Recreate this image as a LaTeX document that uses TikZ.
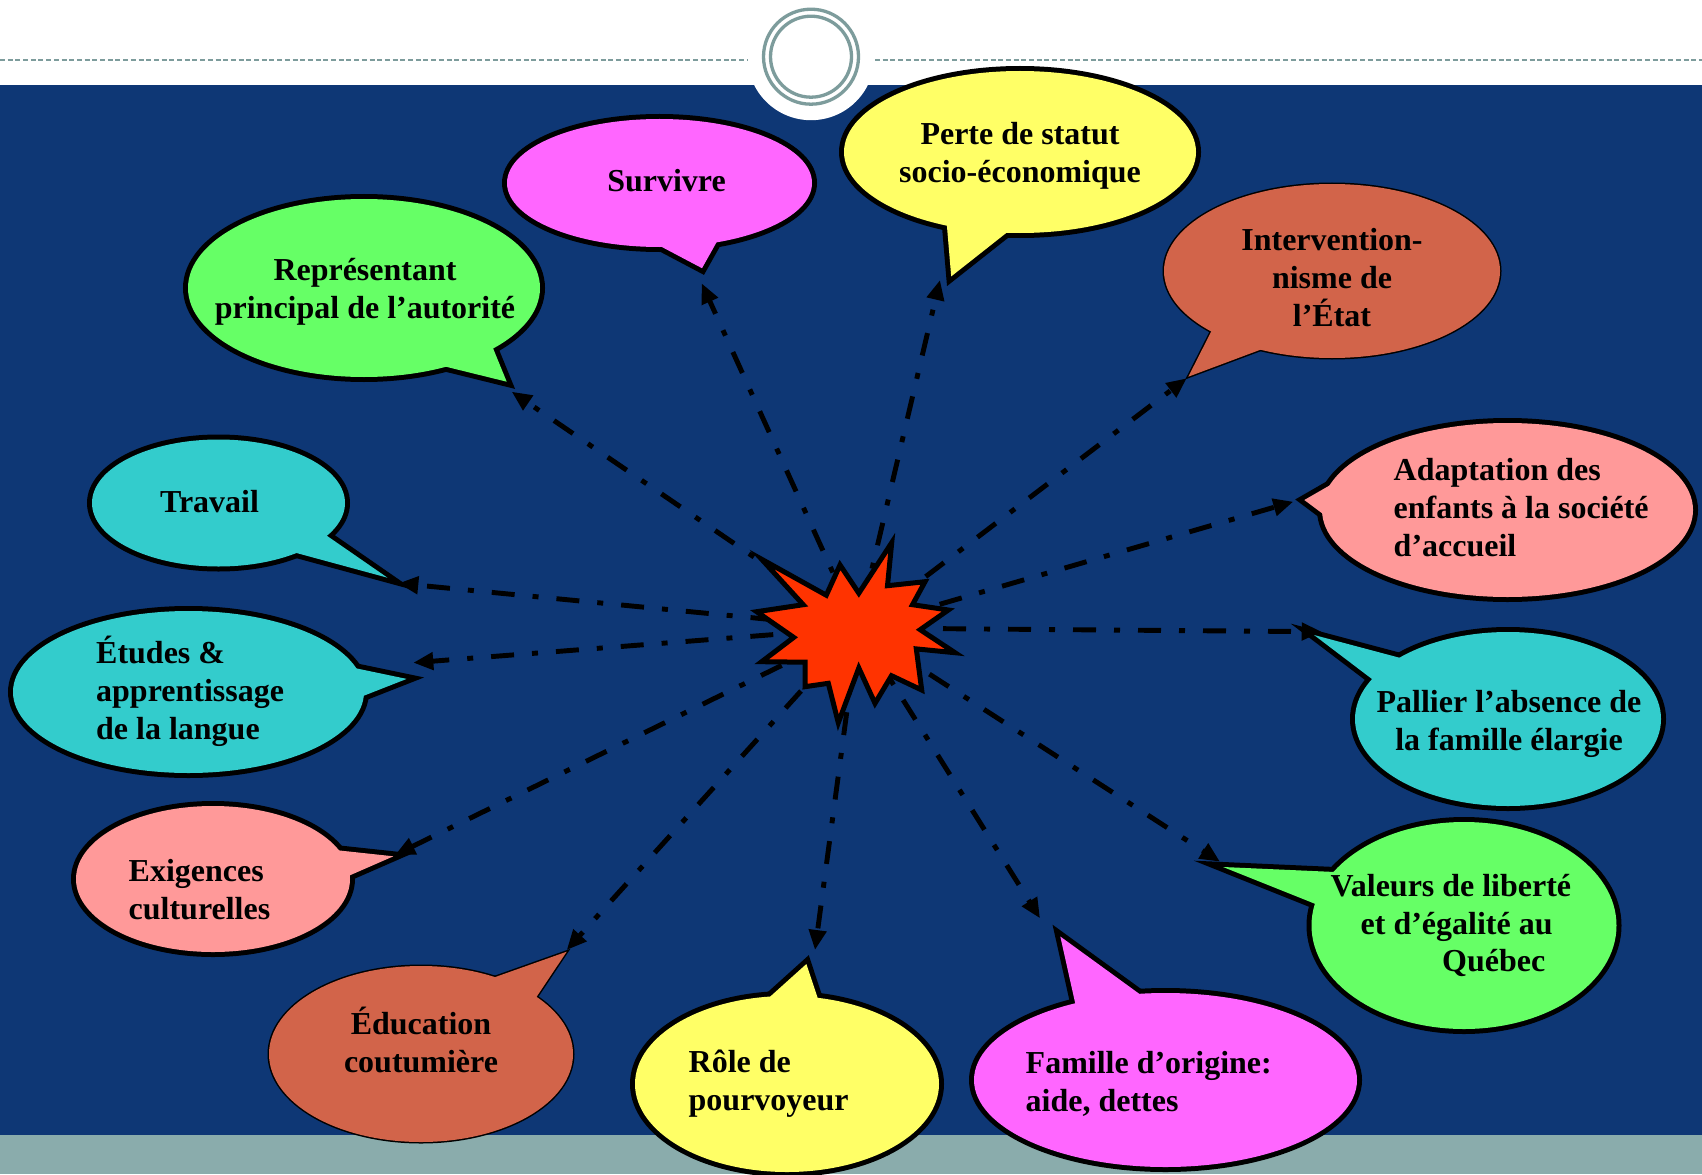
\documentclass[tikz,border=0pt]{standalone}
\usepackage{fontspec}
\setmainfont{Liberation Serif}
\usetikzlibrary{arrows.meta}
\definecolor{bg}{HTML}{0E3775}
\definecolor{band}{HTML}{8AACAC}
\definecolor{ring}{HTML}{7D9C9C}
\definecolor{mag}{HTML}{FF66FF}
\definecolor{yel}{HTML}{FFFF66}
\definecolor{grn}{HTML}{66FF66}
\definecolor{terra}{HTML}{D2644A}
\definecolor{cyn}{HTML}{33CCCC}
\definecolor{pnk}{HTML}{FF9999}
\definecolor{boom}{HTML}{FF3300}
\newcommand\bubble[8]{%
  \draw[line width=#2] (#3) ellipse[x radius=#4,y radius=#5];
  \draw[line width=#2,line join=miter] (#6) -- (#7) -- (#8) -- cycle;
  \fill[#1] (#3) ellipse[x radius=#4,y radius=#5];
  \fill[#1] (#6) -- (#7) -- (#8) -- cycle;
}
\tikzset{
  txt/.style={font=\bfseries\fontsize{9.1}{10.8}\selectfont,inner sep=0pt,text=black},
  arr/.style={line width=1.4pt,dash pattern=on 2.3mm off 1.8mm on 0.6mm off 1.8mm,
    -{Triangle[length=2mm,width=1.7mm]},shorten <=2mm},
}
\begin{document}
\begin{tikzpicture}[x=0.1mm,y=-0.1mm]
\useasboundingbox (0,0) rectangle (1702,1174);
\fill[white] (0,0) rectangle (1702,1174);
\fill[bg] (0,85) rectangle (1702,1135);
\fill[band] (0,1135) rectangle (1702,1174);
\fill[white] (811,56.7) circle[radius=63.5];
\draw[ring,line width=0.33mm] (811,56.7) circle[radius=47.5];
\draw[ring,line width=0.33mm] (811,56.7) circle[radius=40.5];
\draw[ring,line width=0.2mm,dash pattern=on 0.5mm off 0.27mm] (0,60) -- (747,60) (875,60) -- (1702,60);

% callouts
\bubble{mag}{1mm}{659.5,183}{152.5}{64}{660,246}{702,268.2}{716.7,242}
\bubble{yel}{1mm}{1020,152}{176}{81}{946.7,223.3}{951.2,276.4}{1010,230}
\bubble{grn}{1mm}{364,288}{176}{89}{443,366}{506.7,381.7}{491.7,345}
\bubble{terra}{0.3mm}{1332,271}{168}{87}{1213,328}{1188.3,376.7}{1265,348}
\bubble{cyn}{1mm}{218.5,503}{126.5}{63.5}{323.3,533.3}{387.5,577.7}{291.7,551.7}
\bubble{pnk}{1mm}{1507.5,510}{185.5}{87}{1333.3,483.3}{1304.3,500}{1326.7,516.7}
\bubble{cyn}{1mm}{188.5,692}{175.5}{81}{348.3,666.7}{406.7,678.9}{358,698}
\bubble{cyn}{1mm}{1508,719}{153}{87}{1408,660}{1314,635}{1373.3,680}
\bubble{pnk}{1mm}{213,879}{137}{73}{335,850}{393.4,856.3}{346.7,876.7}
\bubble{grn}{1mm}{1464,925.5}{152.5}{103.5}{1335,872}{1223.1,867}{1318,905}
\bubble{terra}{0.3mm}{421,1054}{152}{88}{491.7,978.3}{566.7,951.7}{533.3,1001.7}
\bubble{yel}{1mm}{787,1084}{152}{88}{768.3,998.3}{806.4,964}{820,1005}
\bubble{mag}{1mm}{1165.5,1080}{191.5}{87}{1076.7,1010}{1060.3,936.5}{1145,998}

\coordinate (c) at (858,628);
\coordinate (aSurv) at (701.7,283.3);
\coordinate (aPerte) at (940,280);
\coordinate (aRepr) at (511.7,391.7);
\coordinate (aInterv) at (1186.7,378.3);
\coordinate (aTrav) at (398.3,583.3);
\coordinate (aAdapt) at (1293.3,501.7);
\coordinate (aEtud) at (413.3,662.7);
\coordinate (aPall) at (1321.7,631.7);
\coordinate (aExig) at (395,855);
\coordinate (aVal) at (1220,861.7);
\coordinate (aEduc) at (566.7,950);
\coordinate (aRole) at (815,950);
\coordinate (aFam) at (1040,918.3);
\foreach \t in {aSurv,aPerte,aRepr,aInterv,aTrav,aAdapt,aEtud,aPall,aExig,aVal,aEduc,aRole,aFam}
  \draw[arr] (c) -- (\t);

% explosion
\filldraw[fill=boom,line width=0.5mm,line join=miter]
 (761.7,559.3) -- (826.3,595.2) -- (840,565) -- (858.8,593.2) -- (891.7,542.7) -- (887.5,585.7)
 -- (925,581.7) -- (912.5,604.7) -- (948.3,610) -- (920.2,629.7) -- (955,652.7) -- (916.3,648.9)
 -- (921.7,690) -- (891.5,675.7) -- (875,703.3) -- (858.8,668) -- (838.3,722.7) -- (828.3,683.3)
 -- (805,686.7) -- (805.2,662.2) -- (761.7,661.7) -- (793.7,637.4) -- (756.7,611.7) -- (803.2,604.7) -- cycle;

% texts
\node[txt] (tSurv) at (666.5,181) {Survivre};
\node[txt,align=center] (tPerte) at (1020,155.5) {Perte de statut\\socio-économique};
\node[txt,align=center] (tRepr) at (365,291.5) {Représentant\\principal de l’autorité};
\node[txt,align=center] (tInterv) at (1332,277.5) {Intervention-\\nisme de\\l’État};
\node[txt] (tTrav) at (209.5,501.5) {Travail};
\node[txt,align=left,anchor=west] (tAdapt) at (1393,508) {Adaptation des\\enfants à la société\\d’accueil};
\node[txt,align=left,anchor=west] (tEtud) at (95.5,691.5) {Études \&\\apprentissage\\de la langue};
\node[txt,align=center] (tPall) at (1509,724) {Pallier l’absence de\\la famille élargie};
\node[txt,align=left,anchor=west] (tExig) at (128,889.5) {Exigences\\culturelles};
\node[txt,align=left,anchor=west] (tVal) at (1330,925.5) {Valeurs de liberté\\\hspace*{3mm}et d’égalité au\\\hspace*{11.15mm}Québec};
\node[txt,align=center] (tEduc) at (421,1040) {Éducation\\coutumière};
\node[txt,align=left,anchor=west] (tRole) at (688,1084) {Rôle de\\pourvoyeur};
\node[txt,align=left,anchor=west] (tFam) at (1025,1084) {Famille d’origine:\\aide, dettes};
\end{tikzpicture}
\end{document}
